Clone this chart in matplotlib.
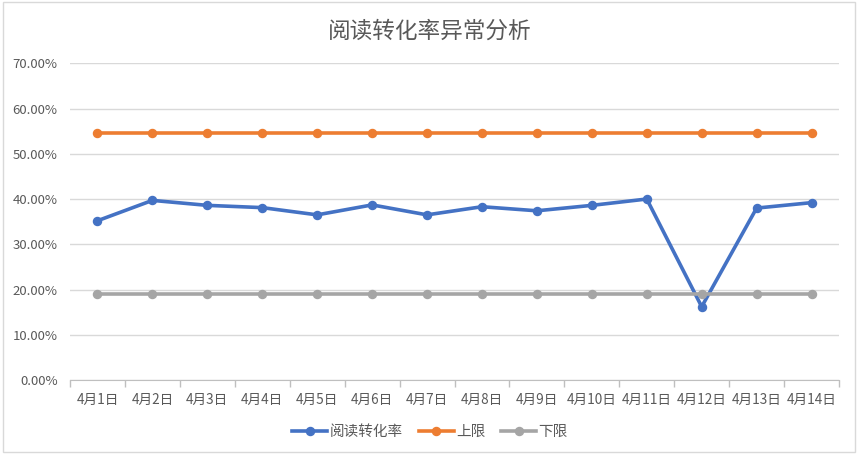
import matplotlib
matplotlib.use("Agg")
import matplotlib.pyplot as plt
from matplotlib.patches import Rectangle
from matplotlib.ticker import FuncFormatter, FixedLocator

plt.rcParams['font.family'] = ['Noto Sans CJK SC', 'DejaVu Sans']

# 数据
days = ["4月1日", "4月2日", "4月3日", "4月4日", "4月5日", "4月6日", "4月7日",
        "4月8日", "4月9日", "4月10日", "4月11日", "4月12日", "4月13日", "4月14日"]
rate = [35.2, 39.7, 38.6, 38.1, 36.5, 38.7, 36.5,
        38.3, 37.4, 38.6, 40.0, 16.2, 38.0, 39.2]
upper = [54.6] * 14
lower = [19.0] * 14

blue, orange, grey = "#4472C4", "#ED7D31", "#A5A5A5"
txt = "#595959"

fig = plt.figure(figsize=(8.6, 4.58), dpi=100)
ax = fig.add_axes([0.0814, 0.1703, 0.8942, 0.6915])

x = list(range(len(days)))
ax.plot(x, rate, color=blue, lw=2.6, marker="o", ms=5.8, label="阅读转化率")
ax.plot(x, upper, color=orange, lw=2.6, marker="o", ms=5.8, label="上限")
ax.plot(x, lower, color=grey, lw=2.6, marker="o", ms=5.8, label="下限")

ax.set_xlim(-0.5, len(days) - 0.5)
ax.set_ylim(0, 70)
ax.set_yticks(range(0, 71, 10))
ax.yaxis.set_major_formatter(FuncFormatter(lambda v, p: f"{v:.2f}%"))
ax.grid(axis="y", color="#D9D9D9", lw=1)
ax.set_axisbelow(True)

ax.set_xticks(x)
ax.set_xticklabels(days)
ax.xaxis.set_minor_locator(FixedLocator([i - 0.5 for i in range(len(days) + 1)]))
ax.tick_params(axis="x", which="major", length=0, pad=9, labelsize=9.8, labelcolor=txt)
ax.tick_params(axis="x", which="minor", length=5, color="#BFBFBF", width=1)
ax.tick_params(axis="y", length=0, pad=9, labelsize=9.5, labelcolor=txt)

for s in ["top", "right", "left"]:
    ax.spines[s].set_visible(False)
ax.spines["bottom"].set_color("#BFBFBF")

fig.text(0.5, 0.932, "阅读转化率异常分析", ha="center", va="center",
         fontsize=16.3, color=txt)

fig.legend(loc="center", bbox_to_anchor=(0.5, 0.057), ncol=3, frameon=False,
           fontsize=10.5, labelcolor=txt, handlelength=2.4, handletextpad=0.15,
           columnspacing=1.1)

fig.patches.append(Rectangle((0.004, 0.013), 0.99, 0.983, transform=fig.transFigure,
                             fill=False, edgecolor="#D9D9D9", lw=1))

fig.savefig("out.png", dpi=100)
